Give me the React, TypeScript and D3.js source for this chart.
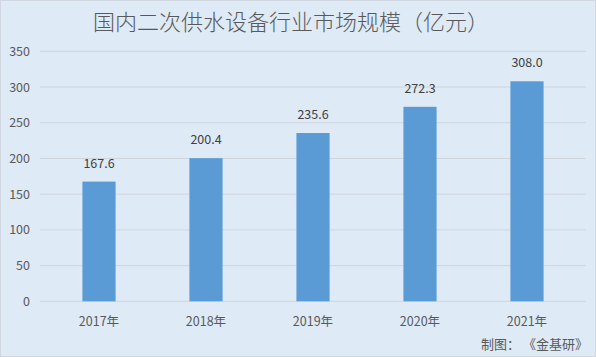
import React from "react";
import * as d3 from "d3";

const categories = ["2017年", "2018年", "2019年", "2020年", "2021年"];
const values = [167.6, 200.4, 235.6, 272.3, 308.0];
const yTicks = [0, 50, 100, 150, 200, 250, 300, 350];

const W = 596, H = 357;
const FONT = "'Microsoft YaHei', 'Noto Sans CJK SC', 'DejaVu Sans', sans-serif";

export default function App() {
  const x = d3.scaleBand<string>().domain(categories).range([45.5, 580.5]).paddingInner(0.69).paddingOuter(0.345);
  const y = d3.scaleLinear().domain([0, 350]).range([301.3, 51.3]);
  return (
    <svg width={W} height={H} style={{ position: "absolute", left: 0, top: 0 }}>
      <rect x={0} y={0} width={W} height={H} fill="#DEEAF6" />
      <rect x={0.5} y={0.5} width={W - 1} height={H - 1} fill="none" stroke="#D0D7E0" />
      <text x={291} y={30} textAnchor="middle" fontFamily={FONT} fontSize={22} fontWeight={300} fill="#595959">
        国内二次供水设备行业市场规模（亿元）
      </text>
      {yTicks.map((t) => (
        <g key={t}>
          <line x1={40} x2={586} y1={y(t)} y2={y(t)} stroke="#D0D5DC" strokeWidth={1} />
          <text x={30} y={y(t) + 4.5} textAnchor="end" fontFamily={FONT} fontSize={12.5} fill="#595959">{t}</text>
        </g>
      ))}
      {categories.map((c, i) => (
        <g key={c}>
          <rect x={x(c)} y={y(values[i])} width={x.bandwidth()} height={y(0) - y(values[i])} fill="#5B9BD5" />
          <text x={(x(c) ?? 0) + x.bandwidth() / 2} y={y(values[i]) - 14} textAnchor="middle" fontFamily={FONT} fontSize={12.5} fill="#404040">
            {values[i].toFixed(1)}
          </text>
          <text x={(x(c) ?? 0) + x.bandwidth() / 2} y={326} textAnchor="middle" fontFamily={FONT} fontSize={12.5} fill="#595959">{c}</text>
        </g>
      ))}
      <text x={588} y={349} textAnchor="end" fontFamily={FONT} fontSize={13} fill="#595959">制图：  《金基研》</text>
    </svg>
  );
}
